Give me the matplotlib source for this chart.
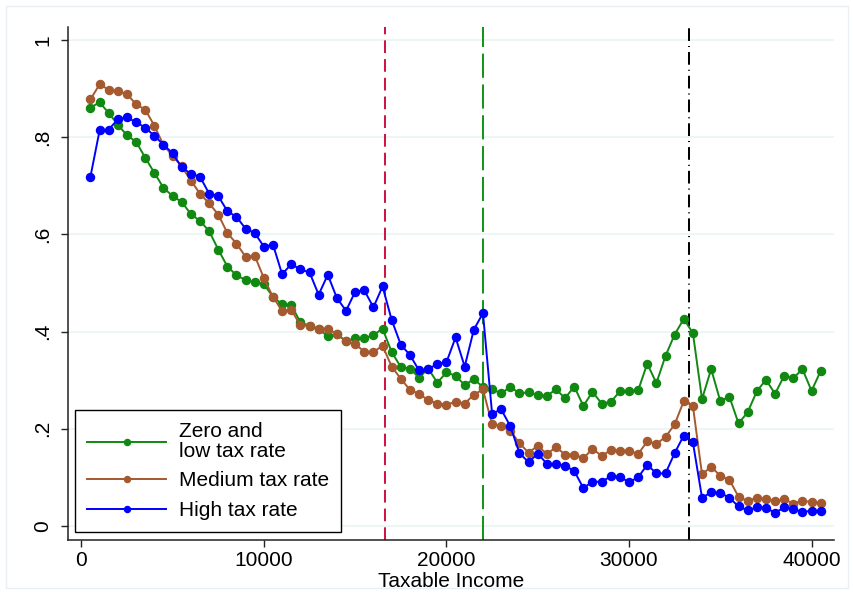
import matplotlib
matplotlib.use('Agg')
import matplotlib.pyplot as plt
from matplotlib.patches import Rectangle
import numpy as np

plt.rcParams['font.family'] = ['Liberation Sans', 'DejaVu Sans']

# income bins (bin midpoints, 500 wide)
income = np.arange(500, 41000, 500)

# share of taxpayers by municipal tax rate group
zero_low = [0.861, 0.872, 0.850, 0.826, 0.804, 0.791, 0.758, 0.727, 0.696, 0.679,
            0.667, 0.642, 0.628, 0.607, 0.569, 0.534, 0.516, 0.506, 0.502, 0.497,
            0.472, 0.456, 0.455, 0.419, 0.412, 0.406, 0.390, 0.395, 0.380, 0.386,
            0.386, 0.393, 0.406, 0.358, 0.327, 0.324, 0.305, 0.324, 0.295, 0.316,
            0.309, 0.290, 0.302, 0.286, 0.281, 0.273, 0.286, 0.273, 0.275, 0.269,
            0.268, 0.281, 0.263, 0.287, 0.247, 0.276, 0.252, 0.255, 0.277, 0.278,
            0.279, 0.334, 0.294, 0.350, 0.394, 0.426, 0.397, 0.261, 0.323, 0.257,
            0.266, 0.211, 0.234, 0.277, 0.301, 0.272, 0.309, 0.304, 0.323, 0.278,
            0.319]
medium = [0.878, 0.909, 0.898, 0.895, 0.889, 0.868, 0.857, 0.824, 0.784, 0.762,
          0.740, 0.711, 0.684, 0.664, 0.641, 0.603, 0.581, 0.554, 0.556, 0.510,
          0.471, 0.443, 0.445, 0.413, 0.412, 0.405, 0.405, 0.395, 0.380, 0.374,
          0.359, 0.358, 0.371, 0.328, 0.303, 0.280, 0.272, 0.259, 0.252, 0.249,
          0.256, 0.252, 0.270, 0.281, 0.209, 0.206, 0.196, 0.170, 0.151, 0.165,
          0.148, 0.162, 0.147, 0.147, 0.139, 0.159, 0.144, 0.156, 0.155, 0.155,
          0.148, 0.174, 0.169, 0.183, 0.209, 0.257, 0.247, 0.106, 0.122, 0.103,
          0.095, 0.060, 0.051, 0.058, 0.055, 0.051, 0.055, 0.046, 0.052, 0.049,
          0.048]
high = [0.719, 0.814, 0.816, 0.837, 0.841, 0.831, 0.820, 0.803, 0.785, 0.767,
        0.738, 0.725, 0.719, 0.684, 0.679, 0.648, 0.636, 0.612, 0.603, 0.575,
        0.579, 0.518, 0.539, 0.528, 0.522, 0.476, 0.517, 0.469, 0.443, 0.482,
        0.485, 0.450, 0.493, 0.424, 0.373, 0.352, 0.320, 0.322, 0.334, 0.337,
        0.388, 0.328, 0.404, 0.438, 0.231, 0.240, 0.205, 0.150, 0.131, 0.149,
        0.128, 0.127, 0.124, 0.113, 0.078, 0.091, 0.091, 0.102, 0.101, 0.090,
        0.100, 0.126, 0.108, 0.108, 0.150, 0.186, 0.172, 0.058, 0.069, 0.068,
        0.058, 0.040, 0.032, 0.038, 0.037, 0.027, 0.038, 0.034, 0.029, 0.031,
        0.031]

labels = ['Zero and\nlow tax rate', 'Medium tax rate', 'High tax rate']
colors = ['#118811', '#a5592f', '#0000ff']

# kink points of the tax schedule
thresholds = [16650, 22000, 33300]
thr_colors = ['#cc1744', '#14961a', '#000000']
thr_dashes = [(0, (6.3, 3.0)), (0, (12, 3.3)), (0, (6.3, 2.5, 0.5, 2.5))]

xticks = [0, 10000, 20000, 30000, 40000]
yticks = [0, 0.2, 0.4, 0.6, 0.8, 1.0]
ytick_labels = ['0', '.2', '.4', '.6', '.8', '1']

fig = plt.figure(figsize=(8.54, 5.94), dpi=100)
fig.patches.append(Rectangle((6 / 854, 6 / 594), 842 / 854, 582 / 594,
                             transform=fig.transFigure, fill=False,
                             edgecolor='#e9eff2', lw=1))
ax = fig.add_axes([0.0793, 0.0909, 0.8973, 0.8636])

for y in yticks:
    ax.axhline(y, color='#eaf2f3', lw=1.1, zorder=0)

for xv, c, ls in zip(thresholds, thr_colors, thr_dashes):
    ax.axvline(xv, color=c, lw=1.45, linestyle=ls, zorder=1)

for series, lab, c in zip([zero_low, medium, high], labels, colors):
    ax.plot(income, series, color=c, lw=1.4, marker='o', markersize=5.8,
            label=lab, zorder=3)

ax.set_xlim(-745, 41230)
ax.set_ylim(-0.029, 1.027)
ax.set_xticks(xticks)
ax.set_xticklabels([str(t) for t in xticks])
ax.set_yticks(yticks)
ax.set_yticklabels(ytick_labels, rotation=90, va='center')

for s in ['top', 'right']:
    ax.spines[s].set_visible(False)
for s in ['left', 'bottom']:
    ax.spines[s].set_color('#222222')
    ax.spines[s].set_linewidth(1.1)

ax.tick_params(axis='both', direction='out', length=5, width=1.0,
               color='#222222', labelsize=15)
ax.tick_params(axis='x', pad=3)
ax.tick_params(axis='y', pad=6)
ax.set_xlabel('Taxable Income', fontsize=15, labelpad=1)

leg = ax.legend(loc='lower left', bbox_to_anchor=(0.009, 0.015),
                borderaxespad=0, fontsize=15, frameon=True, fancybox=False,
                edgecolor='black', framealpha=1, handlelength=3.8,
                handletextpad=0.6, labelspacing=0.5, borderpad=0.6,
                markerscale=0.75)
leg.get_frame().set_linewidth(1.0)
for t in leg.get_texts():
    t.set_linespacing(1.05)

fig.savefig('out.png', dpi=100)
